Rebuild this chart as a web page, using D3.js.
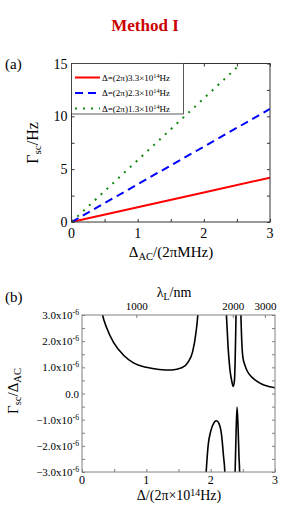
<!DOCTYPE html>
<html>
<head>
<meta charset="utf-8">
<script src="https://cdn.jsdelivr.net/npm/d3@7"></script>
<style>
    body { margin: 0; background: #fff; }
    text { font-family: 'Liberation Serif', 'Times New Roman', serif; }
</style>
</head>
<body>
<svg id="chart" width="291" height="514"></svg>
<script>
'use strict';

// panel (a): scattering rate vs AC Stark shift
const acShift = [0, 1, 2, 3];
const rateRed = [0, 1.4, 2.8, 4.2];
const rateBlue = [0, 3.57, 7.13, 10.7];
const rateGreen = [0, 5.85, 11.7, 17.55];
const detuningLabels = ['3.3', '2.3', '1.3'];
const rateTicks = [0, 5, 10, 15];

// panel (b): ratio vs detuning, one array per visible branch, [detuning, ratio/1e-6]
const branchA = [[0.29, 3.4], [0.32, 3.0], [0.385, 2.5], [0.49, 1.95], [0.65, 1.45], [0.8, 1.17], [1.0, 1.0],
    [1.2, 0.92], [1.4, 0.9], [1.55, 0.98], [1.65, 1.2], [1.72, 1.6], [1.77, 2.3], [1.80, 3.0], [1.81, 3.4]];
const branchB = [[1.92, -3.4], [1.93, -3.0], [1.96, -2.0], [2.0, -1.45], [2.05, -1.12], [2.09, -1.04],
    [2.13, -1.15], [2.17, -1.6], [2.2, -2.4], [2.22, -3.0], [2.226, -3.4]];
const branchC = [[2.238, 3.4], [2.245, 3.0], [2.27, 1.8], [2.3, 0.9], [2.33, 0.45], [2.35, 0.27],
    [2.37, 0.5], [2.38, 1.2], [2.39, 2.4], [2.396, 3.4]];
const branchD = [[2.377, -3.4], [2.38, -3.0], [2.395, -1.5], [2.41, -0.52], [2.425, -1.2], [2.44, -2.4],
    [2.45, -3.0], [2.453, -3.4]];
const branchE = [[2.465, 3.4], [2.47, 3.0], [2.48, 2.2], [2.5, 1.4], [2.53, 1.1], [2.57, 0.85], [2.63, 0.65],
    [2.7, 0.5], [2.8, 0.35], [2.9, 0.27], [3.0, 0.22]];
const ratioTicks = [-3, -2, -1, 0, 1, 2, 3];
const wavelengthTicks = [1000, 2000, 3000];

const NU0 = 3.85;           // transition, 1e14 Hz
const C_NM = 2998;          // c in nm * 1e14 Hz
const FRAME_A = '#333';
const FRAME_B = '#808080';

let svg = d3.select('#chart');

svg.append('text')
    .attr('x', 145).attr('y', 31)
    .attr('text-anchor', 'middle')
    .style('font-size', '17px').style('font-weight', 'bold')
    .attr('fill', '#cc0000')
    .text('Method I');

// helper: text with sub/superscripts, parts = [[str, 'sub'|'sup'|null], ...]
function rich(sel, parts, size) {
    parts.forEach(([str, kind]) => {
        let t = sel.append('tspan').text(str);
        if (kind === 'sub') {
            t.attr('baseline-shift', '-30%').style('font-size', (size * 0.7) + 'px');
        } else if (kind === 'sup') {
            t.attr('baseline-shift', '45%').style('font-size', (size * 0.7) + 'px');
        }
    });
    return sel;
}

// ---------- panel (a) ----------
let xa = d3.scaleLinear().domain([0, 3]).range([71.5, 270]);
let ya = d3.scaleLinear().domain([0, 15]).range([222, 63.5]);

let pa = svg.append('g');
pa.append('clipPath').attr('id', 'clipA').append('rect')
    .attr('x', xa(0)).attr('y', ya(15)).attr('width', xa(3) - xa(0)).attr('height', ya(0) - ya(15));

let seriesA = [
    {values: rateRed, color: '#ff0000', dash: null},
    {values: rateBlue, color: '#0000ff', dash: '8,5'},
    {values: rateGreen, color: '#118811', dash: '2,6'}
];
let lineA = d3.line().x((d, i) => xa(acShift[i])).y(d => ya(d));

pa.selectAll('path.series')
    .data(seriesA)
    .enter()
    .append('path')
    .attr('class', 'series')
    .attr('clip-path', 'url(#clipA)')
    .attr('d', d => lineA(d.values))
    .attr('fill', 'none')
    .attr('stroke', d => d.color)
    .attr('stroke-width', 2)
    .attr('stroke-dasharray', d => d.dash);

// frame and inward ticks
pa.append('rect')
    .attr('x', xa(0)).attr('y', ya(15)).attr('width', xa(3) - xa(0)).attr('height', ya(0) - ya(15))
    .attr('fill', 'none').attr('stroke', FRAME_A).attr('stroke-width', 1);

let axBottomA = pa.append('g').attr('transform', `translate(0,${ya(0)})`)
    .call(d3.axisBottom(xa).tickValues(d3.range(0, 3.01, 0.5)).tickSize(-3).tickFormat(''));
let axTopA = pa.append('g').attr('transform', `translate(0,${ya(15)})`)
    .call(d3.axisTop(xa).tickValues(d3.range(0, 3.01, 0.5)).tickSize(-3).tickFormat(''));
let axLeftA = pa.append('g').attr('transform', `translate(${xa(0)},0)`)
    .call(d3.axisLeft(ya).tickValues(d3.range(0, 15.01, 2.5)).tickSize(-3).tickFormat(''));
let axRightA = pa.append('g').attr('transform', `translate(${xa(3)},0)`)
    .call(d3.axisRight(ya).tickValues(d3.range(0, 15.01, 2.5)).tickSize(-3).tickFormat(''));
[axBottomA, axTopA, axLeftA, axRightA].forEach(g => {
    g.select('.domain').remove();
    g.selectAll('line').attr('stroke', FRAME_A);
});

pa.selectAll('text.xtick')
    .data(acShift)
    .enter()
    .append('text')
    .attr('class', 'xtick')
    .attr('x', d => xa(d)).attr('y', ya(0) + 16)
    .attr('text-anchor', 'middle')
    .style('font-size', '14px')
    .text(d => d);

pa.selectAll('text.ytick')
    .data(rateTicks)
    .enter()
    .append('text')
    .attr('class', 'ytick')
    .attr('x', xa(0) - 4).attr('y', d => ya(d) + 5)
    .attr('text-anchor', 'end')
    .style('font-size', '14px')
    .text(d => d);

rich(pa.append('text').attr('x', 171).attr('y', 257).attr('text-anchor', 'middle').style('font-size', '15px'),
    [['\u0394', null], ['AC', 'sub'], ['/(2\u03c0MHz)', null]], 15);

rich(pa.append('text').attr('transform', 'translate(38,143) rotate(-90)').attr('text-anchor', 'middle')
    .style('font-size', '16px'),
    [['\u0393', null], ['sc', 'sub'], ['/Hz', null]], 16);

pa.append('text').attr('x', 5).attr('y', 69).style('font-size', '15px').text('(a)');

// legend
let legend = pa.append('g');
legend.append('rect')
    .attr('x', xa(0)).attr('y', ya(15)).attr('width', 112).attr('height', 50.5)
    .attr('fill', '#fff').attr('stroke', FRAME_A).attr('stroke-width', 0.8);

let entries = legend.selectAll('g.entry')
    .data(seriesA)
    .enter()
    .append('g')
    .attr('class', 'entry')
    .attr('transform', (d, i) => `translate(0,${77.5 + i * 15.5})`);

entries.append('line')
    .attr('x1', 75).attr('x2', 100).attr('y1', 0).attr('y2', 0)
    .attr('stroke', d => d.color).attr('stroke-width', 2)
    .attr('stroke-dasharray', d => d.dash);

entries.append('text')
    .attr('x', 102).attr('y', 3)
    .style('font-size', '9px')
    .each(function(d, i) {
        rich(d3.select(this), [['\u0394=(2\u03c0)' + detuningLabels[i] + '\u00d710', null], ['14', 'sup'], ['Hz', null]], 9);
    });

// ---------- panel (b) ----------
let xb = d3.scaleLinear().domain([0, 3]).range([82, 275]);
let yb = d3.scaleLinear().domain([-3, 3]).range([472, 315]);
let lambdaX = (lam) => xb(NU0 - C_NM / lam);

let pb = svg.append('g');
pb.append('clipPath').attr('id', 'clipB').append('rect')
    .attr('x', xb(0)).attr('y', yb(3)).attr('width', xb(3) - xb(0)).attr('height', yb(-3) - yb(3));

let lineB = d3.line().x(d => xb(d[0])).y(d => yb(d[1])).curve(d3.curveMonotoneX);

pb.selectAll('path.branch')
    .data([branchA, branchB, branchC, branchD, branchE])
    .enter()
    .append('path')
    .attr('class', 'branch')
    .attr('clip-path', 'url(#clipB)')
    .attr('d', lineB)
    .attr('fill', 'none')
    .attr('stroke', '#000')
    .attr('stroke-width', 1.6);

pb.append('rect')
    .attr('x', xb(0)).attr('y', yb(3)).attr('width', xb(3) - xb(0)).attr('height', yb(-3) - yb(3))
    .attr('fill', 'none').attr('stroke', FRAME_B).attr('stroke-width', 1);

let axBottomB = pb.append('g').attr('transform', `translate(0,${yb(-3)})`)
    .call(d3.axisBottom(xb).tickValues(d3.range(0, 3.01, 0.5)).tickSize(-3).tickFormat(''));
let axLeftB = pb.append('g').attr('transform', `translate(${xb(0)},0)`)
    .call(d3.axisLeft(yb).tickValues(d3.range(-3, 3.01, 0.5)).tickSize(-3).tickFormat(''));
let axRightB = pb.append('g').attr('transform', `translate(${xb(3)},0)`)
    .call(d3.axisRight(yb).tickValues(d3.range(-3, 3.01, 0.5)).tickSize(-3).tickFormat(''));
let axTopB = pb.append('g').attr('transform', `translate(0,${yb(3)})`);
axTopB.selectAll('line')
    .data(wavelengthTicks)
    .enter()
    .append('line')
    .attr('x1', d => lambdaX(d)).attr('x2', d => lambdaX(d))
    .attr('y1', 0).attr('y2', 3);
[axBottomB, axLeftB, axRightB, axTopB].forEach(g => {
    g.select('.domain').remove();
    g.selectAll('line').attr('stroke', FRAME_B);
});

pb.selectAll('text.xtick')
    .data(acShift)
    .enter()
    .append('text')
    .attr('class', 'xtick')
    .attr('x', d => xb(d)).attr('y', yb(-3) + 12)
    .attr('text-anchor', 'middle')
    .style('font-size', '12px')
    .text(d => d);

pb.selectAll('text.lambda')
    .data(wavelengthTicks)
    .enter()
    .append('text')
    .attr('class', 'lambda')
    .attr('x', d => lambdaX(d)).attr('y', yb(3) - 5)
    .attr('text-anchor', 'middle')
    .style('font-size', '11px')
    .text(d => d);

pb.selectAll('text.ytick')
    .data(ratioTicks)
    .enter()
    .append('text')
    .attr('class', 'ytick')
    .attr('x', xb(0) - 3).attr('y', d => yb(d) + 4)
    .attr('text-anchor', 'end')
    .style('font-size', '11px')
    .each(function(d) {
        if (d === 0) {
            d3.select(this).text('0.0');
        } else {
            rich(d3.select(this), [[d3.format('.1f')(d) + 'x10', null], ['-6', 'sup']], 11);
        }
    });

rich(pb.append('text').attr('x', 174).attr('y', 297).attr('text-anchor', 'middle').style('font-size', '14px'),
    [['\u03bb', null], ['L', 'sub'], ['/nm', null]], 14);

rich(pb.append('text').attr('x', 179).attr('y', 500).attr('text-anchor', 'middle').style('font-size', '14px'),
    [['\u0394/(2\u03c0\u00d710', null], ['14', 'sup'], ['Hz)', null]], 14);

rich(pb.append('text').attr('transform', 'translate(18,391) rotate(-90)').attr('text-anchor', 'middle')
    .style('font-size', '15px'),
    [['\u0393', null], ['sc', 'sub'], ['/\u0394', null], ['AC', 'sub']], 15);

pb.append('text').attr('x', 5).attr('y', 302).style('font-size', '15px').text('(b)');
</script>
</body>
</html>
